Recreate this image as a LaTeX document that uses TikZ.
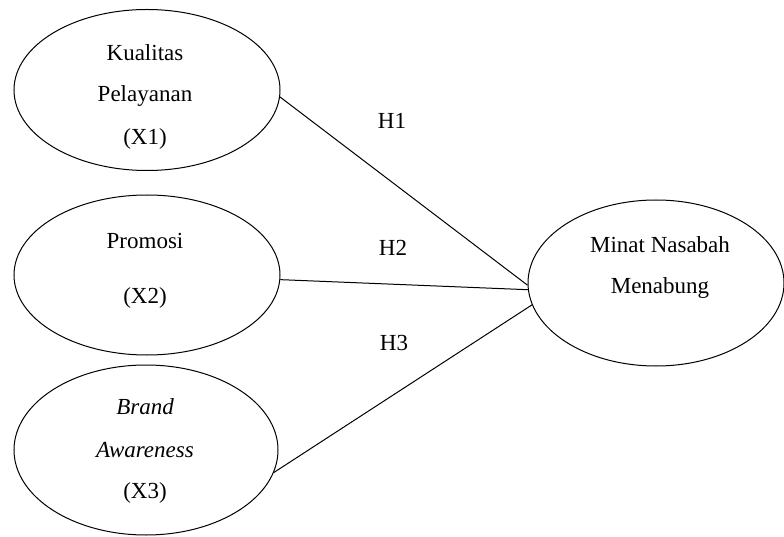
\documentclass[tikz,border=0pt]{standalone}
\usepackage{fontspec}
\setmainfont{Liberation Serif}
\usetikzlibrary{shapes.geometric}
\begin{document}
\begin{tikzpicture}[x=1pt,y=-1pt,
  var/.style={draw, ellipse, line width=1pt, inner sep=0pt},
  txt/.style={font=\fontsize{23}{28}\selectfont, inner sep=0pt, text height=16pt, text depth=5pt},
  link/.style={draw, line width=1pt}]
\useasboundingbox (0,0) rectangle (784,537);
% ellipses
\node[var, minimum width=266pt, minimum height=161pt] (e1) at (147,90) {};
\node[var, minimum width=266pt, minimum height=160pt] (e2) at (147,275) {};
\node[var, minimum width=264pt, minimum height=170pt] (e3) at (146,450) {};
\node[var, minimum width=256pt, minimum height=166pt] (y) at (656,283) {};
% texts
\node[txt] (t1a) at (145,55) {Kualitas};
\node[txt] (t1b) at (145,96) {Pelayanan};
\node[txt] (t1c) at (145,139) {(X1)};
\node[txt] (t2a) at (145,243) {Promosi};
\node[txt] (t2b) at (145,298) {(X2)};
\node[txt] (t3a) at (145,409) {\itshape Brand};
\node[txt] (t3b) at (145,452) {\itshape Awareness};
\node[txt] (t3c) at (145,493) {(X3)};
\node[txt] (tya) at (660,247) {Minat Nasabah};
\node[txt] (tyb) at (660,288) {Menabung};
% connectors
\draw[link] (e1.-3) -- (y.181);
\draw[link] (e2.-2.5) -- (y.183);
\draw[link] (e3.-10) -- (y.190.7);
% hypothesis labels
\node[txt] (h1) at (392,123) {H1};
\node[txt] (h2) at (393,250) {H2};
\node[txt] (h3) at (394,345) {H3};
\end{tikzpicture}
\end{document}
